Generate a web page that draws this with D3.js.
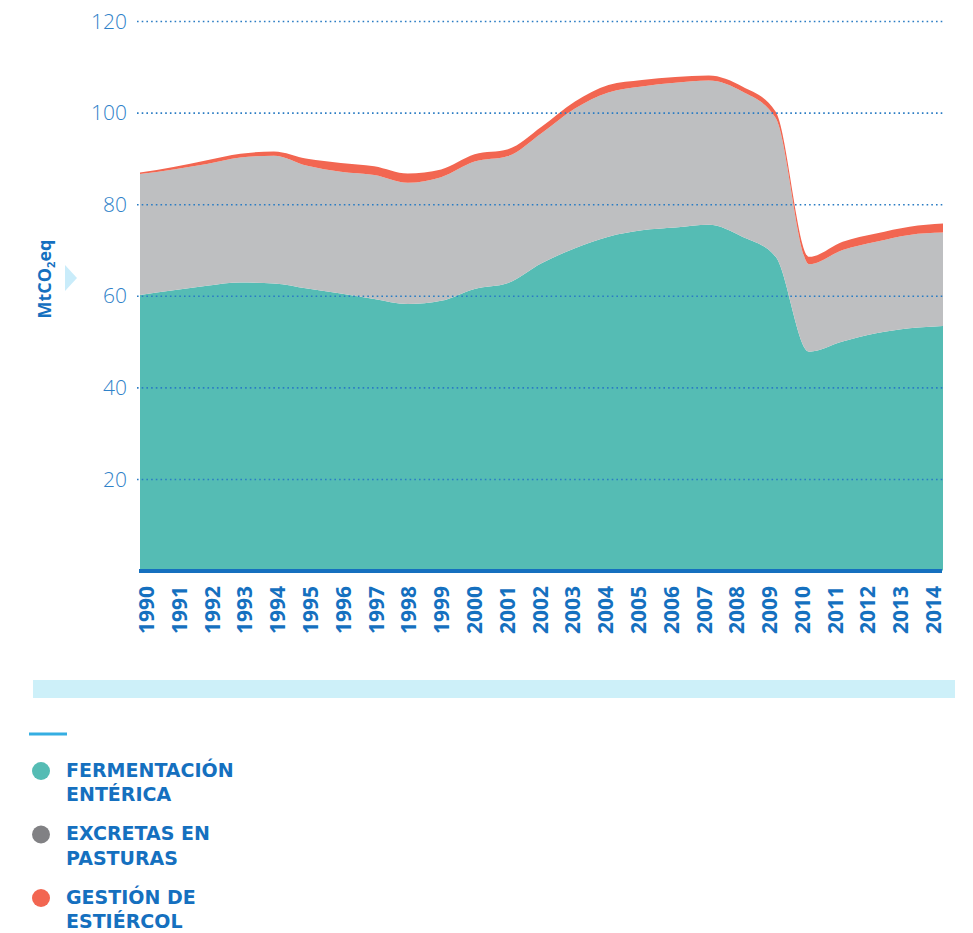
<!DOCTYPE html>
<html>
<head>
<meta charset="utf-8">
<script src="https://cdn.jsdelivr.net/npm/d3@7"></script>
<style>
  body { margin: 0; background: #fff; }
  svg { display: block; }
  .tick-y { font-family: "Open Sans", sans-serif; font-weight: 300; font-size: 21px; fill: #2f82c9; }
  .tick-x { font-family: "Open Sans", sans-serif; font-weight: 700; font-size: 21px; fill: #1570bf; }
  .legend { font-family: "DejaVu Sans", sans-serif; font-weight: 700; font-size: 19px; fill: #1570bf; }
</style>
</head>
<body>
<svg width="973" height="933"></svg>
<script>
// data (MtCO2eq)
const years = d3.range(1990, 2015);
const fermentacion = [60.2, 61.2, 62.2, 62.9, 62.7, 61.6, 60.5, 59.3, 58.2, 58.9, 61.5, 62.8,
  67.1, 70.4, 72.9, 74.3, 74.9, 75.5, 72.9, 68.5, 47.8, 50.0, 51.8, 52.9, 53.4];
const excretas = [26.4, 26.4, 26.6, 27.3, 27.9, 26.8, 26.6, 27.1, 26.5, 27.0, 27.8, 27.7,
  28.4, 30.5, 31.5, 31.4, 31.6, 31.5, 31.7, 30.3, 19.1, 20.0, 20.0, 20.4, 20.4];
const gestion = [0.3, 0.5, 0.8, 0.8, 0.9, 1.5, 1.9, 1.9, 2.0, 1.7, 1.6, 1.5,
  1.4, 1.5, 1.6, 1.4, 1.3, 1.1, 1.1, 1.4, 1.6, 1.8, 1.8, 1.8, 2.0];
const yTicks = [20, 40, 60, 80, 100, 120];

const keys = ["fermentacion", "excretas", "gestion"];
const colors = { fermentacion: "#55bcb4", excretas: "#bebfc1", gestion: "#f26651" };
const legendLabels = [
  ["FERMENTACIÓN", "ENTÉRICA"],
  ["EXCRETAS EN", "PASTURAS"],
  ["GESTIÓN DE", "ESTIÉRCOL"]
];
const legendColors = ["#55bcb4", "#818184", "#f26651"];

const table = years.map((y, i) => ({
  year: y,
  fermentacion: fermentacion[i],
  excretas: excretas[i],
  gestion: gestion[i]
}));

const svg = d3.select("svg");

const x = d3.scaleLinear().domain([1990, 2014]).range([140, 943]);
const xLabel = d3.scalePoint().domain(years).range([146, 933]);
const y = d3.scaleLinear().domain([0, 120]).range([570.6, 21]);

const series = d3.stack().keys(keys)(table);

const area = d3.area()
  .x((d) => x(d.data.year))
  .y0((d) => y(d[0]))
  .y1((d) => y(d[1]))
  .curve(d3.curveMonotoneX);

// stacked areas
svg.append("g")
  .selectAll("path")
  .data(series)
  .join("path")
  .attr("fill", (d) => colors[d.key])
  .attr("d", area);

// dotted grid lines + y labels
const yAxis = d3.axisLeft(y)
  .tickValues(yTicks)
  .tickSize(-806)
  .tickPadding(10);

const yAxisG = svg.append("g")
  .attr("transform", "translate(137,0)")
  .call(yAxis);
yAxisG.select(".domain").remove();
yAxisG.selectAll(".tick line")
  .attr("stroke", "#2a7cc4")
  .attr("stroke-width", 1.6)
  .attr("stroke-dasharray", "1.6,3.1");
yAxisG.selectAll(".tick text")
  .attr("class", "tick-y")
  .attr("fill", null)
  .attr("font-size", null)
  .attr("font-family", null)
  .attr("dy", "0.34em");

// base line
svg.append("line")
  .attr("x1", 139).attr("x2", 942)
  .attr("y1", y(0) + 0.5).attr("y2", y(0) + 0.5)
  .attr("stroke", "#1570bf")
  .attr("stroke-width", 4);

// x labels (rotated)
const xAxisG = svg.append("g")
  .attr("transform", "translate(0,586)")
  .call(d3.axisBottom(xLabel).tickSize(0).tickPadding(0));
xAxisG.select(".domain").remove();
xAxisG.selectAll(".tick text")
  .attr("class", "tick-x")
  .attr("fill", null)
  .attr("font-size", null)
  .attr("font-family", null)
  .attr("transform", "rotate(-90)")
  .attr("text-anchor", "end")
  .attr("x", 0)
  .attr("y", 0)
  .attr("dy", "0.36em");

// y axis title
svg.append("text")
  .attr("transform", "translate(51,279) rotate(-90)")
  .attr("text-anchor", "middle")
  .attr("font-family", "'Open Sans', sans-serif")
  .attr("font-weight", 700)
  .attr("font-size", 18)
  .attr("fill", "#1570bf")
  .html('MtCO<tspan font-size="11" dy="4">2</tspan><tspan dy="-4">eq</tspan>');

svg.append("path")
  .attr("d", "M65,265 L77,278 L65,291 Z")
  .attr("fill", "#c9ecfa");

// light band
svg.append("rect")
  .attr("x", 33).attr("y", 680)
  .attr("width", 922).attr("height", 18)
  .attr("fill", "#cdf0f9");

svg.append("line")
  .attr("x1", 29).attr("x2", 67)
  .attr("y1", 734).attr("y2", 734)
  .attr("stroke", "#35aee2")
  .attr("stroke-width", 3);

// legend
const legend = svg.append("g")
  .selectAll("g")
  .data(legendLabels)
  .join("g")
  .attr("transform", (d, i) => `translate(0,${771 + i * 63.5})`);

legend.append("circle")
  .attr("cx", 41).attr("cy", 0).attr("r", 9)
  .attr("fill", (d, i) => legendColors[i]);

legend.append("text")
  .attr("class", "legend")
  .attr("x", 66)
  .attr("y", 5.5)
  .selectAll("tspan")
  .data((d) => d)
  .join("tspan")
  .attr("x", 66)
  .attr("dy", (d, i) => (i === 0 ? 0 : 24.5))
  .text((d) => d);
</script>
</body>
</html>
